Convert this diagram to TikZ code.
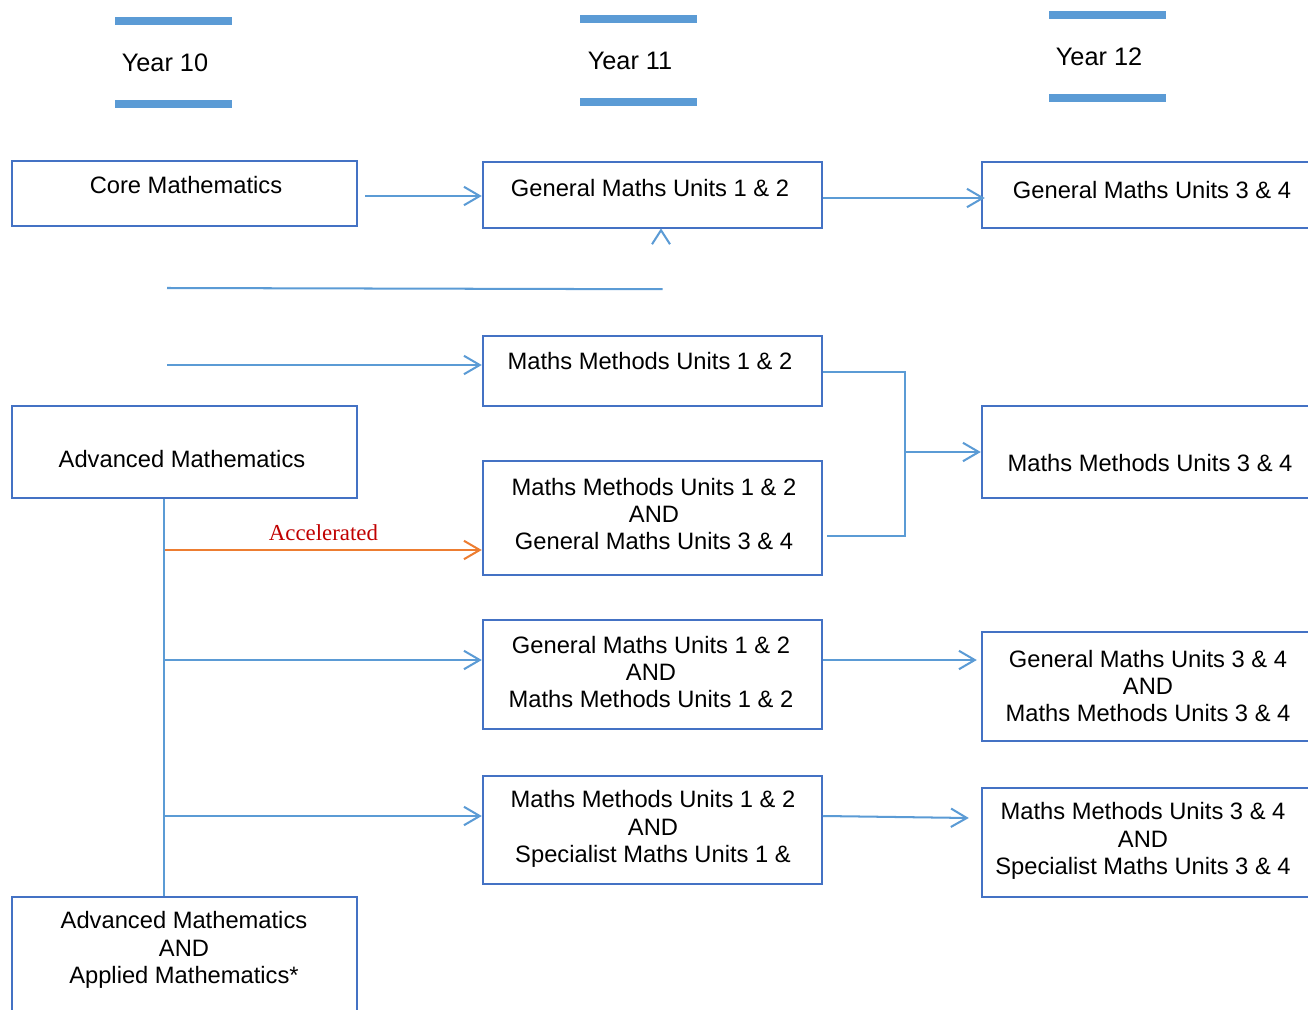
\documentclass[tikz,border=0pt]{standalone}
\usepackage{fontspec}
\setmainfont{Liberation Sans}
\newfontfamily\accfont{Liberation Serif}
\usetikzlibrary{calc, positioning, arrows.meta}
\definecolor{boxblue}{HTML}{4472C4}
\definecolor{lineblue}{HTML}{5B9BD5}
\definecolor{accorange}{HTML}{ED7D31}
\definecolor{accred}{HTML}{C00000}
\newlength\px
\setlength\px{0.02cm}

\begin{document}
\begin{tikzpicture}[x=0.02cm, y=-0.02cm,
    box/.style = {draw=boxblue, line width=1.4pt, inner sep=0pt},
    leftbox/.style = {box, minimum width=345*\px},
    midbox/.style = {box, minimum width=339*\px},
    rightbox/.style = {box, minimum width=358*\px},
    txt/.style = {font=\fontsize{13.5}{15.6}\selectfont, align=center, inner sep=0pt},
    yeartxt/.style = {font=\fontsize{14.4}{17}\selectfont, inner sep=0pt},
    bar/.style = {draw=lineblue, line width=4.3pt},
    line/.style = {draw=lineblue, line width=1.15pt},
    arr/.style = {line, -{Straight Barb[length=9pt, width=10.5pt]}},
    accarr/.style = {arr, draw=accorange} ]

\useasboundingbox (0,0) rectangle (1308,1010);

% year headings
\foreach \x/\y/\yr in {115/21/10, 580/19/11, 1049/15/12} {
  \draw[bar] (\x,\y) -- +(117,0);
  \draw[bar] (\x,\y+83) -- +(117,0);
  \node[yeartxt] (year\yr) at (\x+50,\y+42) {Year \yr};
}

% year 10
\node[leftbox, minimum height=65*\px] (core) at (184.5,193.5) {};
\node[txt] (coretxt) at (186,185) {Core Mathematics};
\node[leftbox, minimum height=92*\px] (adv) at (184.5,452) {};
\node[txt] (advtxt) at (182,459) {Advanced Mathematics};
\node[leftbox, minimum height=143*\px] (advapp) at (184.5,968.5) {};
\node[txt] (advapptxt) at (184,950) {Advanced Mathematics\\AND\\Applied Mathematics*};

% year 11
\node[midbox, minimum height=66*\px] (gm12) at (652.5,195) {};
\node[txt] (gm12txt) at (650,188) {General Maths Units 1 \& 2};
\node[midbox, minimum height=70*\px] (mm12) at (652.5,371) {};
\node[txt] (mm12txt) at (650,361) {Maths Methods Units 1 \& 2};
\node[midbox, minimum height=114*\px] (mmgm) at (652.5,518) {};
\node[txt] (mmgmtxt) at (654,514) {Maths Methods Units 1 \& 2\\AND\\General Maths Units 3 \& 4};
\node[midbox, minimum height=109*\px] (gmmm) at (652.5,674.5) {};
\node[txt] (gmmmtxt) at (651,672) {General Maths Units 1 \& 2\\AND\\Maths Methods Units 1 \& 2};
\node[midbox, minimum height=108*\px] (mmsm) at (652.5,830) {};
\node[txt] (mmsmtxt) at (653,829) {Maths Methods Units 1 \& 2\\AND\\Specialist Maths Units 1 \&};

% year 12
\node[rightbox, minimum height=66*\px] (gm34) at (1161,195) {};
\node[txt] (gm34txt) at (1152,190) {General Maths Units 3 \& 4};
\node[rightbox, minimum height=92*\px] (mm34) at (1161,452) {};
\node[txt] (mm34txt) at (1150,463) {Maths Methods Units 3 \& 4};
\node[rightbox, minimum height=109*\px] (gmmm34) at (1161,686.5) {};
\node[txt] (gmmm34txt) at (1148,686) {General Maths Units 3 \& 4\\AND\\Maths Methods Units 3 \& 4};
\node[rightbox, minimum height=109*\px] (mmsm34) at (1161,842.5) {};
\node[txt] (mmsm34txt) at (1143,841) {Maths Methods Units 3 \& 4\\AND\\Specialist Maths Units 3 \& 4};

% general maths path
\draw[arr] ($(core.east)+(7,2.5)$) -- ($(core.east -| gm12.west)+(0,2.5)$);
\draw[arr] ($(gm12.east)+(0,3)$) -- ($(gm34.west)+(4,3)$);
\coordinate (gmstart) at (167,288);
\coordinate (gmend) at ($(gm12.south)+(10,60)$);
\draw[line] (gmstart) -- (gmend);
\draw[line] ($(gm12.south)+(-0.5,15)$) -- ($(gm12.south)+(8.5,1)$) -- ($(gm12.south)+(17.5,15)$);

% methods path
\coordinate (mmstart) at (167,365);
\draw[arr] (mmstart) -- (mmstart -| mm12.west);
\coordinate (bk) at ($(mm12.east)+(82,1)$);
\draw[line] ($(mm12.east)+(0,1)$) -- (bk) -- ($(bk |- mmgm.east)+(0,18)$) -- ($(mmgm.east)+(4,18)$);
\draw[arr] (bk |- mm34.west) -- (mm34.west);

% advanced trunk
\coordinate (trunk) at ($(adv.south)+(-20.5,0)$);
\draw[line] (trunk) -- (trunk |- advapp.north);
\draw[accarr] ($(trunk |- mmgm.west)+(1,32)$) -- ($(mmgm.west)+(0,32)$)
   node[midway, above=4.5pt, inner sep=0pt, font=\accfont\fontsize{13}{15}\selectfont, text=accred] (acclbl) {Accelerated};
\draw[arr] ($(trunk |- gmmm.west)+(1,-14.5)$) -- ($(gmmm.west)+(0,-14.5)$);
\draw[arr] ($(gmmm.east)+(0,-14.5)$) -- ($(gmmm.east -| gmmm34.west)+(-4,-14.5)$);
\draw[arr] ($(trunk |- mmsm.west)+(1,-14)$) -- ($(mmsm.west)+(0,-14)$);
\draw[arr] ($(mmsm.east)+(0,-14)$) -- ($(mmsm.east -| mmsm34.west)+(-12,-12)$);
\end{tikzpicture}
\end{document}
